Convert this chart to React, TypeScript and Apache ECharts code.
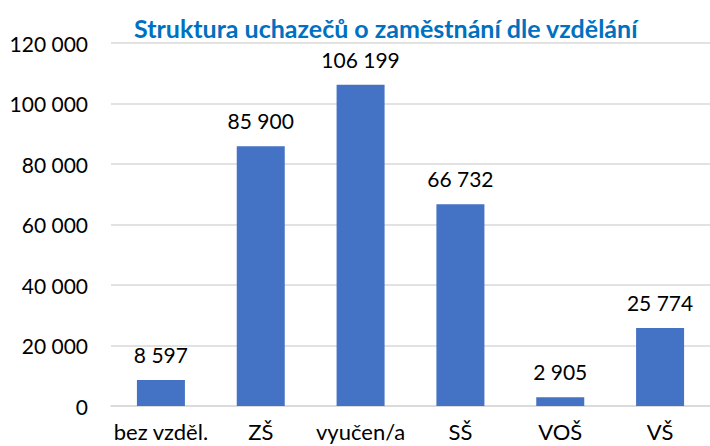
import React, { useEffect, useRef } from "react";
import * as echarts from "echarts";

const categories = ["bez vzděl.", "ZŠ", "vyučen/a", "SŠ", "VOŠ", "VŠ"];
const values = [8597, 85900, 106199, 66732, 2905, 25774];
const titleText = "Struktura uchazečů o zaměstnání dle vzdělání";

const fmt = (v: number) => String(Math.round(v)).replace(/\B(?=(\d{3})+(?!\d))/g, " ");

const FONT = "Lato, 'Noto Sans', sans-serif";

export default function App() {
  const ref = useRef<HTMLDivElement>(null);
  useEffect(() => {
    const chart = echarts.init(ref.current!, null, { renderer: "svg" });
    chart.setOption({
      animation: false,
      title: {
        text: titleText,
        left: 129,
        top: 10,
        textStyle: { color: "#0070C0", fontSize: 25, fontWeight: "bold", fontFamily: FONT },
      },
      grid: { left: 111, right: -4, top: 43, bottom: 40, containLabel: false },
      xAxis: {
        type: "category",
        data: categories,
        axisLine: { show: true, lineStyle: { color: "#D9D9D9", width: 1.5 } },
        axisTick: { show: false },
        axisLabel: { color: "#000", fontSize: 22, fontFamily: FONT, margin: 14, interval: 0 },
      },
      yAxis: {
        type: "value",
        min: 0,
        max: 120000,
        interval: 20000,
        axisLine: { show: false },
        axisTick: { show: false },
        axisLabel: { color: "#000", fontSize: 21, fontFamily: FONT, margin: 23, formatter: (v: number) => fmt(v) },
        splitLine: { lineStyle: { color: "#D9D9D9", width: 1.5 } },
      },
      series: [
        {
          type: "bar",
          data: values,
          barWidth: 48,
          itemStyle: { color: "#4472C4" },
          label: {
            show: true,
            position: "top",
            distance: 15,
            color: "#000",
            fontSize: 21,
            fontFamily: FONT,
            formatter: (p: any) => fmt(p.value),
          },
        },
      ],
    });
    return () => chart.dispose();
  }, []);
  return (
    <div
      ref={ref}
      style={{ position: "fixed", left: 0, top: 0, width: 710, height: 446, background: "#fff" }}
    />
  );
}
